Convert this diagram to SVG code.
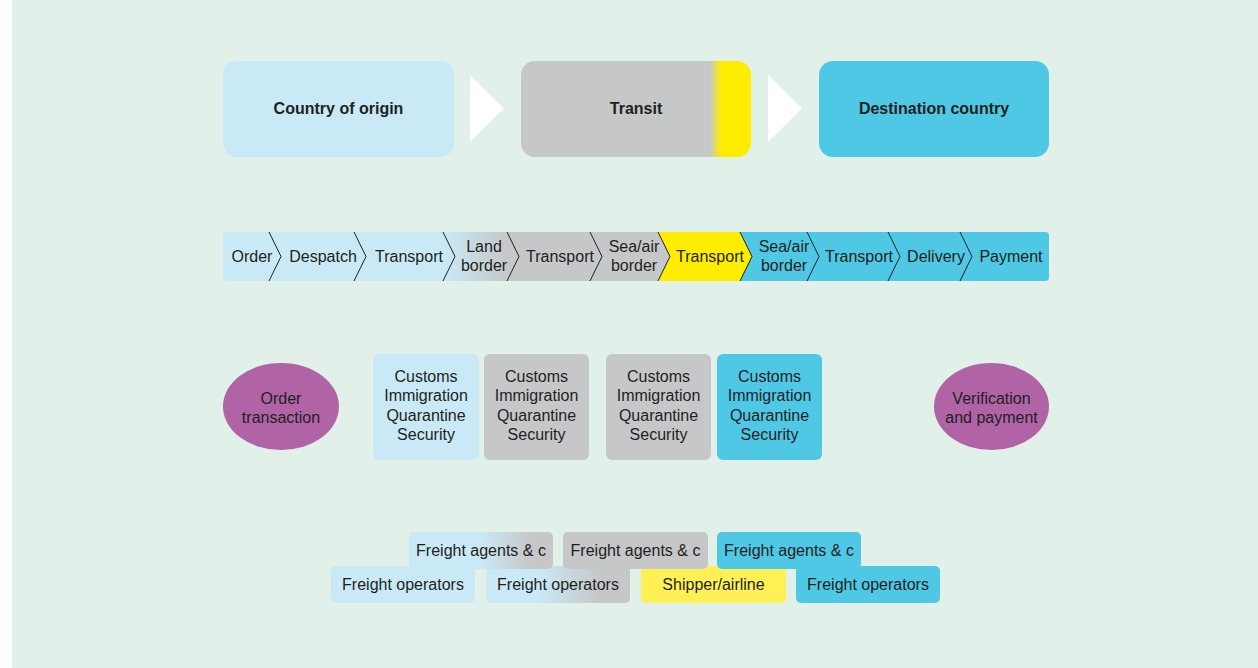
<svg xmlns="http://www.w3.org/2000/svg" width="1258" height="668" viewBox="0 0 1258 668">
<defs>
<style>
text{font-family:"Liberation Sans",Arial,Helvetica,sans-serif;font-size:16px;fill:#231f20;text-anchor:middle}
.b{font-weight:bold}
.lb{fill:#c9e9f6}
.gr{fill:#c6c7c8}
.bl{fill:#4fc8e5}
.pu{fill:#b064a6}
.ye{fill:#fff155}
.chev{fill:none;stroke:#231f20;stroke-width:1}
.arr{fill:#ffffff}
</style>
<linearGradient id="gTransit" gradientUnits="userSpaceOnUse" x1="521" y1="0" x2="751" y2="0">
<stop offset="0" stop-color="#c6c7c8"/>
<stop offset="0.82" stop-color="#c6c7c8"/>
<stop offset="0.87" stop-color="#ffed00"/>
<stop offset="1" stop-color="#ffed00"/>
</linearGradient>
<linearGradient id="gBar" gradientUnits="userSpaceOnUse" x1="223" y1="0" x2="740" y2="0">
<stop offset="0.43" stop-color="#c9e9f6"/>
<stop offset="0.55" stop-color="#c6c7c8"/>
</linearGradient>
<linearGradient id="gAgentA" gradientUnits="userSpaceOnUse" x1="409" y1="0" x2="553" y2="0">
<stop offset="0.5" stop-color="#c9e9f6"/>
<stop offset="0.85" stop-color="#c6c7c8"/>
</linearGradient>
<linearGradient id="gOper2" gradientUnits="userSpaceOnUse" x1="486" y1="0" x2="630" y2="0">
<stop offset="0.36" stop-color="#c9e9f6"/>
<stop offset="0.8" stop-color="#c6c7c8"/>
</linearGradient>
<clipPath id="barClip"><rect x="223" y="232" width="826" height="49" rx="4"/></clipPath>
</defs>
<rect x="0" y="0" width="1258" height="668" fill="#ffffff"/>
<rect x="12" y="0" width="1246" height="668" fill="#e1f0e9"/>

<g id="country-of-origin"><rect class="lb" x="223" y="61" width="231" height="96" rx="14"/><text class="b" x="338.5" y="113.5">Country of origin</text></g>
<g id="transit"><rect x="521" y="61" width="230" height="96" rx="14" fill="url(#gTransit)"/><text class="b" x="636" y="113.5">Transit</text></g>
<g id="destination-country"><rect class="bl" x="819" y="61" width="230" height="96" rx="14"/><text class="b" x="934" y="113.5">Destination country</text></g>

<g id="connectors">
<polygon class="arr" points="470,75 504,108.5 470,142"/>
<polygon class="arr" points="768,75 802,108.5 768,142"/>
</g>

<g id="process-bar">
<g clip-path="url(#barClip)">
<rect x="223" y="232" width="826" height="49" fill="url(#gBar)"/>
<polygon fill="#ffed00" points="658,232 740,232 752,256.5 740,281 658,281 670,256.5"/>
<polygon class="bl" points="740,232 1049,232 1049,281 740,281 752,256.5"/>
</g>
<polyline class="chev" points="269,232 281,256.5 269,281"/>
<polyline class="chev" points="354,232 366,256.5 354,281"/>
<polyline class="chev" points="443,232 455,256.5 443,281"/>
<polyline class="chev" points="507,232 519,256.5 507,281"/>
<polyline class="chev" points="590,232 602,256.5 590,281"/>
<polyline class="chev" points="658,232 670,256.5 658,281"/>
<polyline class="chev" points="740,232 752,256.5 740,281"/>
<polyline class="chev" points="807,232 819,256.5 807,281"/>
<polyline class="chev" points="888,232 900,256.5 888,281"/>
<polyline class="chev" points="960,232 972,256.5 960,281"/>
<text x="252" y="262">Order</text>
<text x="323" y="262">Despatch</text>
<text x="409" y="262">Transport</text>
<text x="484" y="252">Land</text><text x="484" y="271">border</text>
<text x="560" y="262">Transport</text>
<text x="634" y="252">Sea/air</text><text x="634" y="271">border</text>
<text x="710" y="262">Transport</text>
<text x="784" y="252">Sea/air</text><text x="784" y="271">border</text>
<text x="859" y="262">Transport</text>
<text x="936" y="262">Delivery</text>
<text x="1011" y="262">Payment</text>
</g>

<g id="order-transaction"><ellipse class="pu" cx="281" cy="406.5" rx="58" ry="43.5"/><text x="281" y="404">Order</text><text x="281" y="423">transaction</text></g>
<g id="checks-origin"><rect class="lb" x="373" y="354" width="106" height="106" rx="6"/><text x="426" y="382">Customs</text><text x="426" y="401.3">Immigration</text><text x="426" y="420.6">Quarantine</text><text x="426" y="440">Security</text></g>
<g id="checks-transit-1"><rect class="gr" x="484" y="354" width="105" height="106" rx="6"/><text x="536.5" y="382">Customs</text><text x="536.5" y="401.3">Immigration</text><text x="536.5" y="420.6">Quarantine</text><text x="536.5" y="440">Security</text></g>
<g id="checks-transit-2"><rect class="gr" x="606" y="354" width="105" height="106" rx="6"/><text x="658.5" y="382">Customs</text><text x="658.5" y="401.3">Immigration</text><text x="658.5" y="420.6">Quarantine</text><text x="658.5" y="440">Security</text></g>
<g id="checks-destination"><rect class="bl" x="717" y="354" width="105" height="106" rx="6"/><text x="769.5" y="382">Customs</text><text x="769.5" y="401.3">Immigration</text><text x="769.5" y="420.6">Quarantine</text><text x="769.5" y="440">Security</text></g>
<g id="verification-payment"><ellipse class="pu" cx="991.5" cy="406.5" rx="57.5" ry="43.5"/><text x="991.5" y="404">Verification</text><text x="991.5" y="423">and payment</text></g>

<g id="operators-origin"><rect class="lb" x="331" y="566" width="144" height="37" rx="5"/><text x="403" y="590">Freight operators</text></g>
<g id="operators-transit"><rect x="486" y="566" width="144" height="37" rx="5" fill="url(#gOper2)"/><text x="558" y="590">Freight operators</text></g>
<g id="shipper-airline"><rect class="ye" x="641" y="566" width="145" height="37" rx="5"/><text x="713.5" y="590">Shipper/airline</text></g>
<g id="operators-destination"><rect class="bl" x="796" y="566" width="144" height="37" rx="5"/><text x="868" y="590">Freight operators</text></g>

<g id="agents-origin"><rect x="409" y="532" width="144" height="37" rx="5" fill="url(#gAgentA)"/><text x="481" y="556">Freight agents &amp; c</text></g>
<g id="agents-transit"><rect class="gr" x="563" y="532" width="145" height="37" rx="5"/><text x="635.5" y="556">Freight agents &amp; c</text></g>
<g id="agents-destination"><rect class="bl" x="717" y="532" width="144" height="37" rx="5"/><text x="789" y="556">Freight agents &amp; c</text></g>
</svg>
